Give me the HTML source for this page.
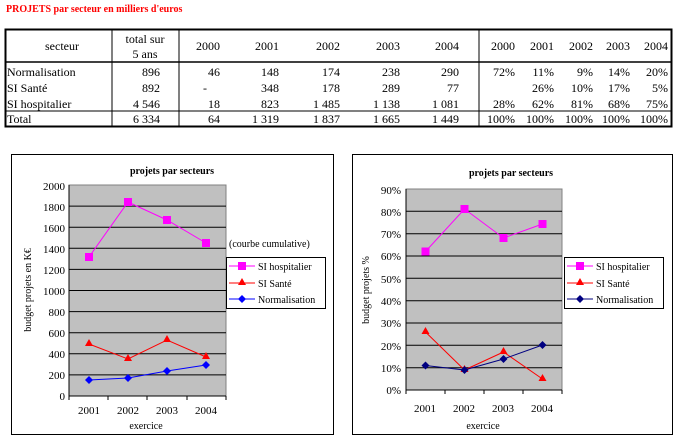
<!DOCTYPE html><html><head><style>body{margin:0;background:#fff}svg text{font-family:"Liberation Serif",serif}</style></head><body>
<svg width="683" height="441" xmlns="http://www.w3.org/2000/svg">
<text x="6" y="12" font-size="10" font-weight="bold" fill="#f00">PROJETS par secteur en milliers d'euros</text>
<g stroke="#000" fill="none"><rect x="5.5" y="29.5" width="666" height="97" stroke-width="2"/>
<line x1="5" y1="62" x2="672" y2="62" stroke-width="1.5"/><line x1="5" y1="111" x2="672" y2="111"/>
<line x1="112" y1="29" x2="112" y2="127"/><line x1="179" y1="29" x2="179" y2="127"/><line x1="479" y1="29" x2="479" y2="127"/></g>
<g font-size="12" fill="#000">
<text x="62" y="50" text-anchor="middle">secteur</text><text x="145" y="43" text-anchor="middle">total sur</text><text x="145" y="58" text-anchor="middle">5 ans</text>
<g text-anchor="end"><text x="220" y="50">2000</text><text x="279" y="50">2001</text><text x="340" y="50">2002</text><text x="400" y="50">2003</text><text x="459" y="50">2004</text>
<text x="515" y="50">2000</text><text x="554" y="50">2001</text><text x="593" y="50">2002</text><text x="630" y="50">2003</text><text x="668" y="50">2004</text>
<text x="160" y="76">896</text><text x="220" y="76">46</text><text x="279" y="76">148</text><text x="340" y="76">174</text><text x="400" y="76">238</text><text x="459" y="76">290</text><text x="515" y="76">72%</text><text x="554" y="76">11%</text><text x="593" y="76">9%</text><text x="630" y="76">14%</text><text x="668" y="76">20%</text>
<text x="160" y="92">892</text><text x="207" y="92">-</text><text x="279" y="92">348</text><text x="340" y="92">178</text><text x="400" y="92">289</text><text x="459" y="92">77</text><text x="554" y="92">26%</text><text x="593" y="92">10%</text><text x="630" y="92">17%</text><text x="668" y="92">5%</text>
<text x="160" y="108">4 546</text><text x="220" y="108">18</text><text x="279" y="108">823</text><text x="340" y="108">1 485</text><text x="400" y="108">1 138</text><text x="459" y="108">1 081</text><text x="515" y="108">28%</text><text x="554" y="108">62%</text><text x="593" y="108">81%</text><text x="630" y="108">68%</text><text x="668" y="108">75%</text>
<text x="160" y="123">6 334</text><text x="220" y="123">64</text><text x="279" y="123">1 319</text><text x="340" y="123">1 837</text><text x="400" y="123">1 665</text><text x="459" y="123">1 449</text><text x="515" y="123">100%</text><text x="554" y="123">100%</text><text x="593" y="123">100%</text><text x="630" y="123">100%</text><text x="668" y="123">100%</text></g>
<text x="7" y="76">Normalisation</text><text x="7" y="92">SI Santé</text><text x="7" y="108">SI hospitalier</text><text x="7" y="123">Total</text></g>

<!-- chart 1 -->
<rect x="11.5" y="154.5" width="322" height="280" fill="#fff" stroke="#000"/>
<text x="172" y="174" font-size="10" font-weight="bold" text-anchor="middle">projets par secteurs</text>
<rect x="69" y="185" width="157" height="211" fill="#c0c0c0" stroke="#808080"/>
<g stroke="#000"><line x1="69" y1="206.1" x2="226" y2="206.1"/><line x1="69" y1="227.2" x2="226" y2="227.2"/><line x1="69" y1="248.3" x2="226" y2="248.3"/><line x1="69" y1="269.4" x2="226" y2="269.4"/><line x1="69" y1="290.5" x2="226" y2="290.5"/><line x1="69" y1="311.6" x2="226" y2="311.6"/><line x1="69" y1="332.7" x2="226" y2="332.7"/><line x1="69" y1="353.8" x2="226" y2="353.8"/><line x1="69" y1="374.9" x2="226" y2="374.9"/>
<line x1="69" y1="396" x2="226" y2="396"/><line x1="69" y1="185" x2="69" y2="400"/><line x1="108" y1="396" x2="108" y2="400"/><line x1="147" y1="396" x2="147" y2="400"/><line x1="187" y1="396" x2="187" y2="400"/><line x1="226" y1="396" x2="226" y2="400"/></g>
<g font-size="11" font-family="Liberation Sans" text-anchor="end"><text x="65" y="190">2000</text><text x="65" y="211">1800</text><text x="65" y="232">1600</text><text x="65" y="253">1400</text><text x="65" y="274">1200</text><text x="65" y="295">1000</text><text x="65" y="316">800</text><text x="65" y="337">600</text><text x="65" y="358">400</text><text x="65" y="379">200</text><text x="65" y="400">0</text></g>
<g font-size="11" text-anchor="middle"><text x="89" y="414">2001</text><text x="128" y="414">2002</text><text x="167" y="414">2003</text><text x="206" y="414">2004</text></g>
<text x="146" y="429" font-size="10" text-anchor="middle">exercice</text>
<text transform="translate(31,290) rotate(-90)" font-size="10" text-anchor="middle">budget projets en K€</text>
<polyline points="89,257 128,202 167,220 206,243" fill="none" stroke="#f0f"/>
<polyline points="89,344 128,359 167,340 206,357" fill="none" stroke="#f00"/>
<polyline points="89,380 128,378 167,371 206,365" fill="none" stroke="#00f"/>
<g fill="#f0f"><rect x="85" y="253" width="8" height="8"/><rect x="124" y="198" width="8" height="8"/><rect x="163" y="216" width="8" height="8"/><rect x="202" y="239" width="8" height="8"/></g>
<g fill="#f00"><path d="M89,339l4,7h-8z"/><path d="M128,354l4,7h-8z"/><path d="M167,335l4,7h-8z"/><path d="M206,352l4,7h-8z"/></g>
<g fill="#00f"><path d="M89,376l4,4-4,4-4-4z"/><path d="M128,374l4,4-4,4-4-4z"/><path d="M167,367l4,4-4,4-4-4z"/><path d="M206,361l4,4-4,4-4-4z"/></g>
<text x="229" y="247" font-size="10">(courbe cumulative)</text>
<rect x="226.5" y="257.5" width="99" height="51" fill="#fff" stroke="#000"/>
<line x1="229" y1="266" x2="255" y2="266" stroke="#f0f"/><rect x="238" y="262" width="8" height="8" fill="#f0f"/><text x="258" y="270" font-size="10">SI hospitalier</text>
<line x1="229" y1="283" x2="255" y2="283" stroke="#f00"/><path d="M242,278l4,7h-8z" fill="#f00"/><text x="258" y="287" font-size="10">SI Santé</text>
<line x1="229" y1="299" x2="255" y2="299" stroke="#00f"/><path d="M242,295l4,4-4,4-4-4z" fill="#00f"/><text x="258" y="303" font-size="10">Normalisation</text>

<!-- chart 2 -->
<rect x="352.5" y="154.5" width="320" height="280" fill="#fff" stroke="#000"/>
<text x="511" y="176" font-size="10" font-weight="bold" text-anchor="middle">projets par secteurs</text>
<rect x="406" y="189" width="156" height="201" fill="#c0c0c0" stroke="#808080"/>
<g stroke="#000"><line x1="406" y1="211.3" x2="562" y2="211.3"/><line x1="406" y1="233.7" x2="562" y2="233.7"/><line x1="406" y1="256" x2="562" y2="256"/><line x1="406" y1="278.3" x2="562" y2="278.3"/><line x1="406" y1="300.7" x2="562" y2="300.7"/><line x1="406" y1="323" x2="562" y2="323"/><line x1="406" y1="345.3" x2="562" y2="345.3"/><line x1="406" y1="367.7" x2="562" y2="367.7"/>
<line x1="406" y1="390" x2="562" y2="390"/><line x1="406" y1="189" x2="406" y2="394"/><line x1="445" y1="390" x2="445" y2="394"/><line x1="484" y1="390" x2="484" y2="394"/><line x1="523" y1="390" x2="523" y2="394"/><line x1="562" y1="390" x2="562" y2="394"/></g>
<g font-size="11" font-family="Liberation Sans" text-anchor="end"><text x="401" y="194">90%</text><text x="401" y="216">80%</text><text x="401" y="238">70%</text><text x="401" y="260">60%</text><text x="401" y="283">50%</text><text x="401" y="305">40%</text><text x="401" y="327">30%</text><text x="401" y="350">20%</text><text x="401" y="372">10%</text><text x="401" y="394">0%</text></g>
<g font-size="11" text-anchor="middle"><text x="425" y="412">2001</text><text x="464" y="412">2002</text><text x="503" y="412">2003</text><text x="542" y="412">2004</text></g>
<text x="483" y="429" font-size="10" text-anchor="middle">exercice</text>
<text transform="translate(369,290) rotate(-90)" font-size="10" text-anchor="middle">budget projets %</text>
<polyline points="425.5,251.5 464.5,209 503.5,238 542.5,224" fill="none" stroke="#f0f"/>
<polyline points="425.5,332 464.5,370 503.5,352 542.5,379" fill="none" stroke="#f00"/>
<polyline points="425.5,365.5 464.5,370 503.5,359 542.5,345" fill="none" stroke="#000080"/>
<g fill="#f0f"><rect x="421.5" y="247.5" width="8" height="8"/><rect x="460.5" y="205" width="8" height="8"/><rect x="499.5" y="234" width="8" height="8"/><rect x="538.5" y="220" width="8" height="8"/></g>
<g fill="#f00"><path d="M425.5,327l4,7h-8z"/><path d="M464.5,365l4,7h-8z"/><path d="M503.5,347l4,7h-8z"/><path d="M542.5,374l4,7h-8z"/></g>
<g fill="#000080"><path d="M425.5,361.5l4,4-4,4-4-4z"/><path d="M464.5,366l4,4-4,4-4-4z"/><path d="M503.5,355l4,4-4,4-4-4z"/><path d="M542.5,341l4,4-4,4-4-4z"/></g>
<rect x="564.5" y="257.5" width="99" height="51" fill="#fff" stroke="#000"/>
<line x1="567" y1="266" x2="593" y2="266" stroke="#f0f"/><rect x="576" y="262" width="8" height="8" fill="#f0f"/><text x="596" y="270" font-size="10">SI hospitalier</text>
<line x1="567" y1="283" x2="593" y2="283" stroke="#f00"/><path d="M580,278l4,7h-8z" fill="#f00"/><text x="596" y="287" font-size="10">SI Santé</text>
<line x1="567" y1="299" x2="593" y2="299" stroke="#000080"/><path d="M580,295l4,4-4,4-4-4z" fill="#000080"/><text x="596" y="303" font-size="10">Normalisation</text>
</svg></body></html>
